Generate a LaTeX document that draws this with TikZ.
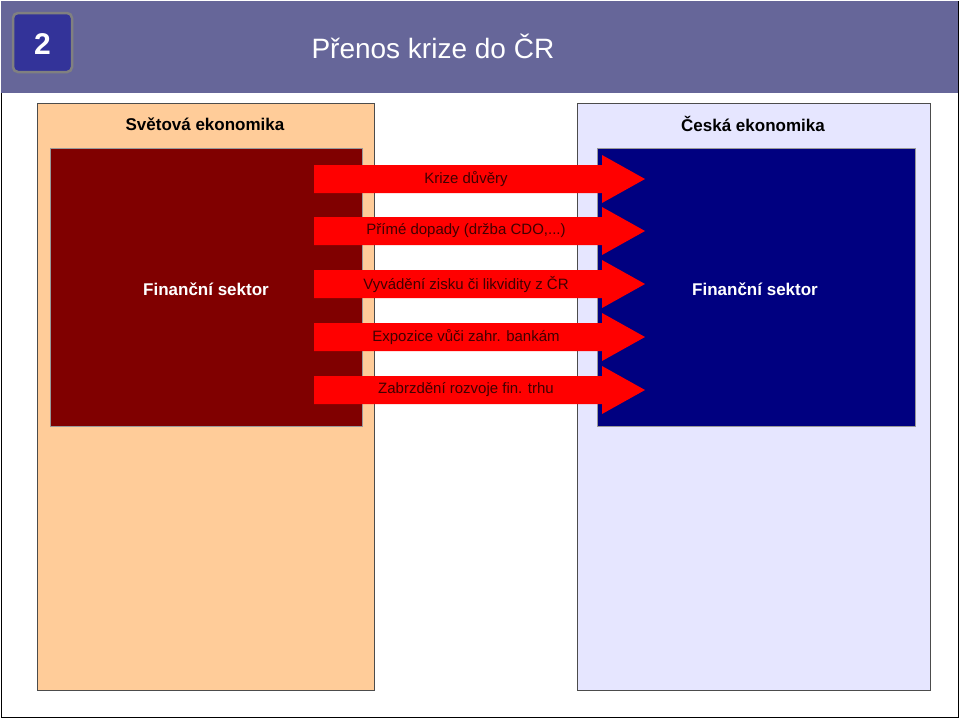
\documentclass[tikz,border=0pt]{standalone}
\usepackage{fontspec}
\setmainfont{Liberation Sans}
\usetikzlibrary{positioning}
\definecolor{titlebar}{HTML}{666699}
\definecolor{badge}{HTML}{333399}
\definecolor{worldbg}{HTML}{FFCC99}
\definecolor{czbg}{HTML}{E6E6FF}
\definecolor{worldfin}{HTML}{800000}
\definecolor{czfin}{HTML}{000080}
\definecolor{arrowtext}{HTML}{400000}
\newcommand{\cdotxt}{Přímé dopady (držba CDO,...)}
\begin{document}
\begin{tikzpicture}[x=1pt,y=-1pt]
\tikzstyle{panel}=[draw=black!70, line width=0.8pt]
\tikzstyle{finbox}=[draw=black!40, line width=1pt]
\tikzstyle{head}=[font=\bfseries\fontsize{17}{20}\selectfont, text=black]
\tikzstyle{fin}=[font=\bfseries\fontsize{17}{20}\selectfont, text=white]
\tikzstyle{flow}=[font=\fontsize{15}{18}\selectfont, text=arrowtext]

\useasboundingbox (0,0) rectangle (960,718);
\draw[line width=1pt] (1,1) rectangle (958,717);
\fill[titlebar] (1,1) rectangle (958,93);
\draw[fill=badge, draw=gray, line width=2.5pt, rounded corners=5pt] (13,13) rectangle (72,72);
\node[font=\bfseries\fontsize{30}{34}\selectfont, text=white](num) at (42.5,44){2};
\node[font=\fontsize{28}{32}\selectfont, text=white, anchor=west](title) at (308,46){Přenos krize do ČR};

\draw[panel, fill=worldbg] (37,103) rectangle (374,690);
\draw[panel, fill=czbg] (577,103) rectangle (930,690);
\node[head](world) at (205,124){Světová ekonomika};
\node[head](cz) at (753,124){Česká ekonomika};

\draw[finbox, fill=worldfin] (50,148) rectangle (362,426);
\draw[finbox, fill=czfin] (597,148) rectangle (915,426);
\node[fin](finw) at (206,289){Finanční sektor};
\node[fin](finc) at (755,289){Finanční sektor};

% kanaly prenosu
\foreach \y/\txt in {179/Krize důvěry, 231/\cdotxt, 284/Vyvádění zisku či likvidity z ČR, 337/Expozice vůči zahr. bankám, 390/Zabrzdění rozvoje fin. trhu}{
  \fill[red] (314,\y-14) -- (602,\y-14) -- (602,\y-24) -- (645,\y) -- (602,\y+24) -- (602,\y+14) -- (314,\y+14) -- cycle;
  \node[flow] at (466,\y){\txt};
}
\end{tikzpicture}
\end{document}
